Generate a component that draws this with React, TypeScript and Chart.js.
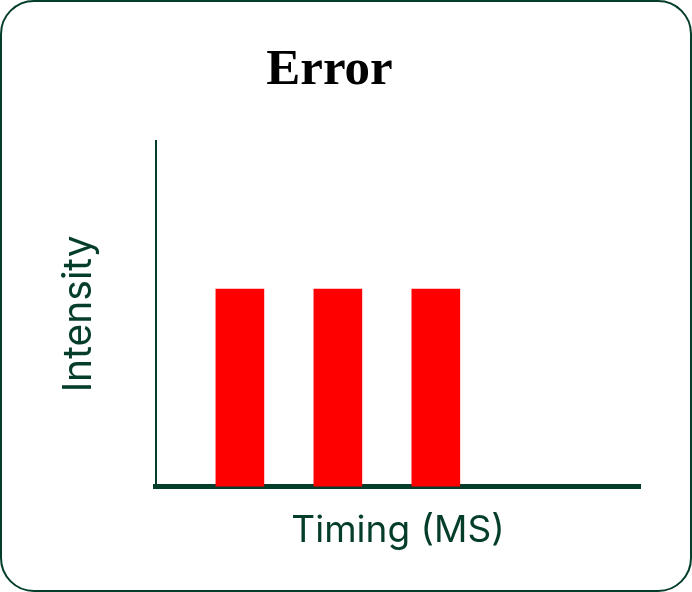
import React, { useEffect, useRef } from "react";
import { Chart, registerables } from "chart.js";

Chart.register(...registerables);

const timings = [1.74, 3.76, 5.78];
const intensities = [4, 4, 4];
const xRange = [0, 10];
const yRange = [0, 7];
const titleText = "Error";
const xTitle = "Timing (MS)";
const yTitle = "Intensity";

const GREEN = "#043d2a";

export default function App() {
  const ref = useRef<HTMLCanvasElement | null>(null);

  useEffect(() => {
    if (!ref.current) return;
    const chart = new Chart(ref.current, {
      type: "bar",
      data: {
        datasets: [
          {
            data: timings.map((t, i) => ({ x: t, y: intensities[i] })),
            backgroundColor: "#ff0000",
            borderWidth: 0,
            barThickness: 48,
          },
        ],
      },
      options: {
        responsive: false,
        animation: false,
        layout: { padding: { left: 18.5, right: 18.5, top: 0, bottom: 0 } },
        plugins: {
          legend: { display: false },
          tooltip: { enabled: false },
          title: {
            display: true,
            text: titleText,
            color: "#000000",
            font: { family: "'Liberation Serif', serif", size: 51, weight: "bold", lineHeight: 1.2 },
            padding: { top: 40, bottom: 39.8 },
          },
        },
        scales: {
          x: {
            type: "linear",
            min: xRange[0],
            max: xRange[1],
            offset: false,
            z: 1,
            grid: { display: false, drawTicks: false },
            ticks: { display: false },
            border: { display: true, color: GREEN, width: 5 },
            title: {
              display: true,
              text: xTitle,
              color: GREEN,
              font: { family: "Inter, sans-serif", size: 37, lineHeight: 1.2 },
              padding: { top: 22, bottom: 39 },
            },
          },
          y: {
            min: yRange[0],
            max: yRange[1],
            grid: { display: false, drawTicks: false },
            ticks: { display: false },
            border: { display: true, color: GREEN, width: 2 },
            title: {
              display: true,
              text: yTitle,
              color: GREEN,
              font: { family: "Inter, sans-serif", size: 39, lineHeight: 1.2 },
              padding: { top: 37, bottom: 53.2 },
            },
          },
        },
      },
    });
    return () => chart.destroy();
  }, []);

  return (
    <div style={{ position: "absolute", left: 0, top: 0, width: 692, height: 592 }}>
      <div
        style={{
          position: "absolute",
          left: 0,
          top: 0,
          width: 692,
          height: 592,
          boxSizing: "border-box",
          border: `2px solid ${GREEN}`,
          borderRadius: 34,
          background: "#ffffff",
        }}
      />
      <canvas ref={ref} width={659} height={592} style={{ position: "absolute", left: 0, top: 0 }} />
    </div>
  );
}
